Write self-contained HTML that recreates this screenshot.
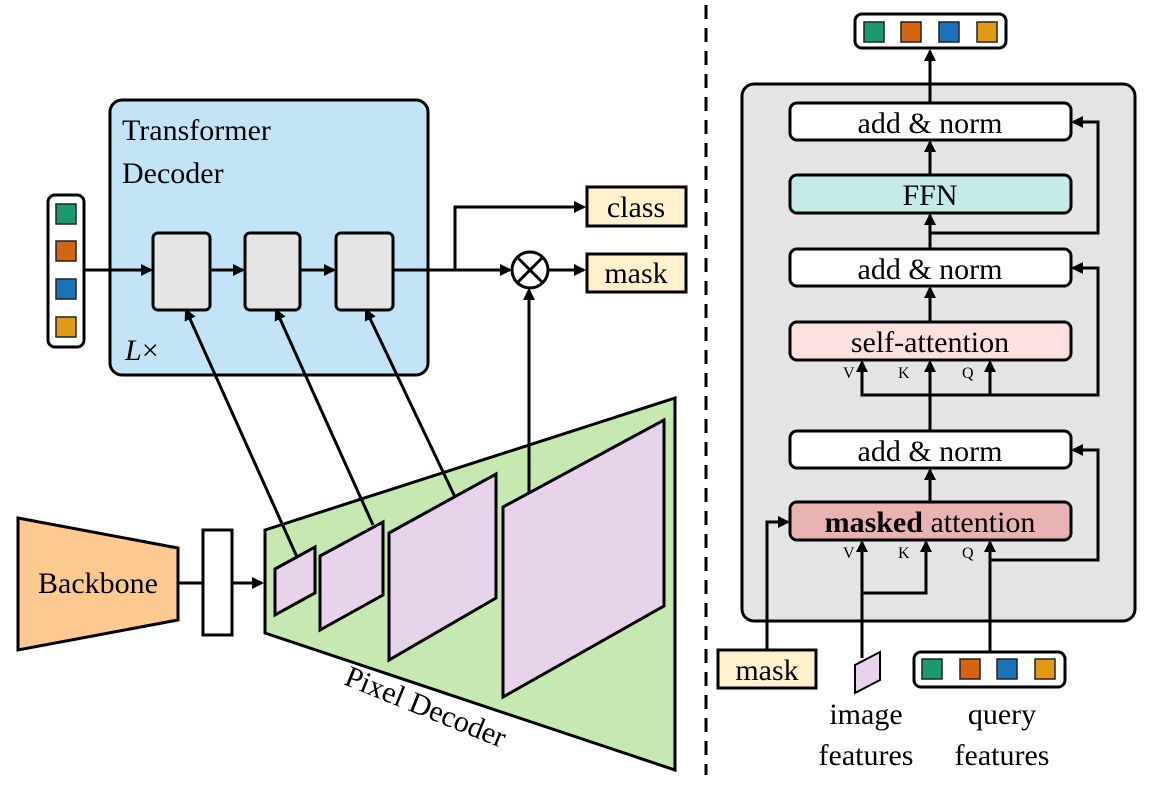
<!DOCTYPE html>
<html><head><meta charset="utf-8"><style>
html,body{margin:0;padding:0;background:#fff}
svg{display:block}
text{font-family:"Liberation Serif","DejaVu Serif","Times New Roman",serif;fill:#000}
</style></head><body>
<svg width="1158" height="794" viewBox="0 0 1158 794" xmlns="http://www.w3.org/2000/svg" font-family="'Liberation Serif', 'DejaVu Serif', serif">
<defs>
<marker id="a" markerWidth="12" markerHeight="12" refX="10" refY="6" orient="auto" markerUnits="userSpaceOnUse">
<path d="M0,0 L12,6 L0,12 z" fill="#000"/></marker>
</defs>
<g stroke="#000" stroke-width="3" fill="none">
<rect x="110" y="100" width="318" height="275" rx="12" fill="#c3e4f6"/>
<rect x="48" y="195" width="36" height="152" rx="7" fill="#fff"/>
<rect x="153" y="233" width="57" height="77" rx="5" fill="#e5e5e5"/>
<rect x="245" y="233" width="55" height="77" rx="5" fill="#e5e5e5"/>
<rect x="336" y="233" width="57" height="77" rx="5" fill="#e5e5e5"/>
<line x1="84" y1="270" x2="151" y2="270" marker-end="url(#a)"/>
<line x1="210" y1="270" x2="243" y2="270" marker-end="url(#a)"/>
<line x1="300" y1="270" x2="334" y2="270" marker-end="url(#a)"/>
<line x1="393" y1="270" x2="510" y2="270" marker-end="url(#a)"/>
<polyline points="455,270 455,207 584,207" marker-end="url(#a)"/>
<circle cx="530" cy="270" r="18" fill="#fff"/>
<line x1="517" y1="257" x2="543" y2="283"/><line x1="543" y1="257" x2="517" y2="283"/>
<line x1="548" y1="270" x2="584" y2="270" marker-end="url(#a)"/>
<rect x="587" y="187" width="99" height="39" fill="#fff2cc"/>
<rect x="587" y="254" width="99" height="38" fill="#fff2cc"/>
<polygon points="18,518 178,548 178,620 18,650" fill="#fcc990"/>
<line x1="178" y1="583" x2="203" y2="583"/>
<rect x="203" y="530" width="29" height="105" fill="#fff"/>
<line x1="232" y1="583" x2="262" y2="583" marker-end="url(#a)"/>
<polygon points="265,530 675,398 675,770 265,633" fill="#c7e8b0"/>
<polygon points="275,569 315,547 315,593 275,615" fill="#e7d3ea"/>
<polygon points="320,556 383,522 383,595 320,630" fill="#e7d3ea"/>
<polygon points="389,533 496,474 496,598 389,660" fill="#e7d3ea"/>
<polygon points="503,507 664,420 664,606 503,697" fill="#e7d3ea"/>
<line x1="297" y1="557" x2="186" y2="310" marker-end="url(#a)"/>
<line x1="373" y1="525" x2="276" y2="310" marker-end="url(#a)"/>
<line x1="455" y1="497" x2="366" y2="310" marker-end="url(#a)"/>
<line x1="529" y1="494" x2="529" y2="290" marker-end="url(#a)"/>
<line x1="706" y1="5" x2="706" y2="775" stroke-dasharray="14,9"/>
<rect x="742" y="84" width="393" height="537" rx="12" fill="#e5e5e5"/>
<rect x="855" y="14" width="151" height="34" rx="7" fill="#fff"/>
<line x1="930" y1="103" x2="930" y2="51" marker-end="url(#a)"/>
<rect x="790" y="103" width="281" height="37" rx="7" fill="#fff"/>
<rect x="790" y="175" width="281" height="38" rx="7" fill="#c5ebe8"/>
<rect x="790" y="249" width="281" height="37" rx="7" fill="#fff"/>
<rect x="790" y="322" width="281" height="38" rx="7" fill="#fde1e1"/>
<rect x="790" y="431" width="281" height="37" rx="7" fill="#fff"/>
<rect x="790" y="502" width="281" height="38" rx="7" fill="#e9b3b3"/>
<line x1="930" y1="175" x2="930" y2="142" marker-end="url(#a)"/>
<line x1="930" y1="249" x2="930" y2="215" marker-end="url(#a)"/>
<line x1="930" y1="322" x2="930" y2="288" marker-end="url(#a)"/>
<line x1="930" y1="431" x2="930" y2="362" marker-end="url(#a)"/>
<line x1="930" y1="502" x2="930" y2="470" marker-end="url(#a)"/>
<polyline points="930,233 1098,233 1098,122 1073,122" marker-end="url(#a)"/>
<polyline points="862,362 862,395 1098,395 1098,268 1073,268" marker-end="url(#a)"/>
<line x1="862" y1="395" x2="862" y2="362" marker-end="url(#a)"/>
<line x1="990" y1="395" x2="990" y2="362" marker-end="url(#a)"/>
<polyline points="990,652 990,560 1098,560 1098,450 1073,450" marker-end="url(#a)"/>
<line x1="990" y1="560" x2="990" y2="542" marker-end="url(#a)"/>
<line x1="862" y1="658" x2="862" y2="542" marker-end="url(#a)"/>
<polyline points="862,593 926,593 926,542" marker-end="url(#a)"/>
<polyline points="767,650 767,522 788,522" marker-end="url(#a)"/>
<rect x="718" y="650" width="98" height="38" fill="#fff2cc"/>
<polygon points="855,665 880,652 880,680 855,693" fill="#e7d3ea" stroke-width="2"/>
<rect x="914" y="652" width="151" height="35" rx="7" fill="#fff"/>
</g>
<g stroke="#222" stroke-width="1.5">
<rect x="56" y="204" width="20" height="20" fill="#1a9a6c"/>
<rect x="56" y="241" width="20" height="20" fill="#d4640f"/>
<rect x="56" y="279" width="20" height="20" fill="#1a73b8"/>
<rect x="56" y="317" width="20" height="20" fill="#e39a13"/>
<rect x="864" y="22" width="20" height="20" fill="#1a9a6c"/>
<rect x="901" y="22" width="20" height="20" fill="#d4640f"/>
<rect x="939" y="22" width="20" height="20" fill="#1a73b8"/>
<rect x="977" y="22" width="20" height="20" fill="#e39a13"/>
<rect x="922" y="659" width="20" height="20" fill="#1a9a6c"/>
<rect x="960" y="659" width="20" height="20" fill="#d4640f"/>
<rect x="997" y="659" width="20" height="20" fill="#1a73b8"/>
<rect x="1035" y="659" width="20" height="20" fill="#e39a13"/>
</g>
<g font-size="30" font-family="'Liberation Serif', 'DejaVu Serif', serif">
<text x="122" y="140">Transformer</text>
<text x="122" y="183">Decoder</text>
<text x="125" y="360" font-style="italic">L<tspan font-style="normal">×</tspan></text>
<text x="636" y="217" text-anchor="middle">class</text>
<text x="636" y="283" text-anchor="middle">mask</text>
<text x="98" y="593" text-anchor="middle">Backbone</text>
<text x="422" y="716" text-anchor="middle" transform="rotate(22 422 716)">Pixel Decoder</text>
<text x="930" y="133" text-anchor="middle">add &amp; norm</text>
<text x="930" y="205" text-anchor="middle">FFN</text>
<text x="930" y="279" text-anchor="middle">add &amp; norm</text>
<text x="930" y="352" text-anchor="middle">self-attention</text>
<text x="930" y="461" text-anchor="middle">add &amp; norm</text>
<text x="930" y="532" text-anchor="middle"><tspan font-weight="bold">masked</tspan> attention</text>
<text x="767" y="680" text-anchor="middle">mask</text>
<text x="866" y="724" text-anchor="middle">image</text>
<text x="866" y="765" text-anchor="middle">features</text>
<text x="1002" y="724" text-anchor="middle">query</text>
<text x="1002" y="765" text-anchor="middle">features</text>
</g>
<g font-size="16" font-family="'Liberation Serif', 'DejaVu Serif', serif">
<text x="843" y="378">V</text><text x="898" y="378">K</text><text x="962" y="378">Q</text>
<text x="843" y="558">V</text><text x="898" y="558">K</text><text x="962" y="558">Q</text>
</g>
</svg>
</body></html>
